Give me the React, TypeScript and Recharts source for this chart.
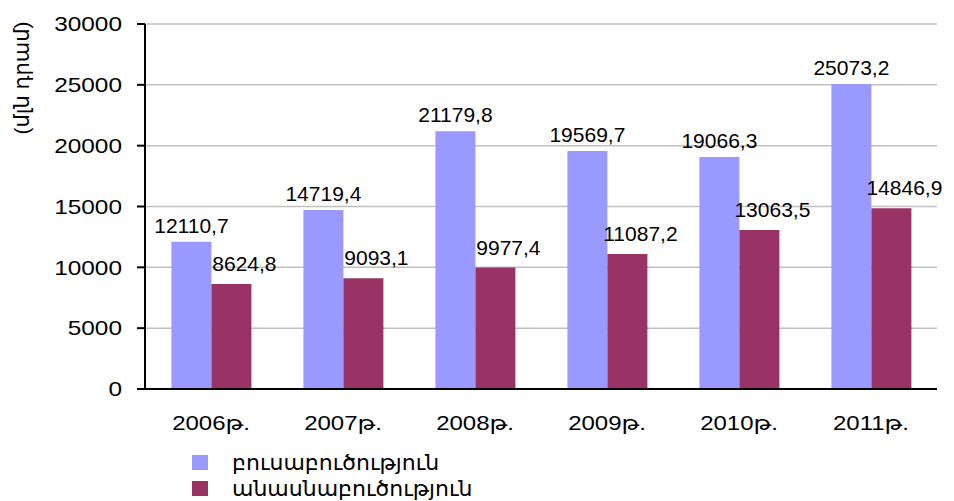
import React from "react";
import {
  BarChart,
  Bar,
  XAxis,
  YAxis,
  CartesianGrid,
  Legend,
  LabelList,
} from "recharts";

const years = ["2006թ.", "2007թ.", "2008թ.", "2009թ.", "2010թ.", "2011թ."];
const cropValues = [12110.7, 14719.4, 21179.8, 19569.7, 19066.3, 25073.2];
const livestockValues = [8624.8, 9093.1, 9977.4, 11087.2, 13063.5, 14846.9];
const yTicks = [0, 5000, 10000, 15000, 20000, 25000, 30000];
const edgeTicks = [0, 1, 2, 3, 4, 5, 6];
const seriesNames = ["բուսաբուծություն", "անասնաբուծություն"];
const unitLabel = "(մլն դրամ)";

const colors = { crop: "#9999FF", livestock: "#993366" };

const data = years.map((year, i) => ({
  year,
  crop: cropValues[i],
  livestock: livestockValues[i],
}));

const FONT = "'Liberation Sans', Arial, 'DejaVu Sans', sans-serif";

const fmt = (v: number) => v.toFixed(1).replace(".", ",");

const YTick = (props: any) => {
  const { x, y, payload } = props;
  return (
    <text
      transform={`translate(${x},${y}) scale(1.22,1)`}
      textAnchor="end"
      dy="0.36em"
      fontSize={20}
      fontFamily={FONT}
      fill="#000"
    >
      {payload.value}
    </text>
  );
};

const XTick = (props: any) => {
  const { x, y, payload } = props;
  return (
    <text
      transform={`translate(${x},${y + 25}) scale(1.2,1)`}
      textAnchor="middle"
      fontSize={20}
      fontFamily={FONT}
      fill="#000"
    >
      {payload.value}
    </text>
  );
};

const UnitLabel = () => (
  <text
    transform="translate(29,78) rotate(-90)"
    textAnchor="middle"
    fontSize={21}
    fontFamily={FONT}
    fill="#000"
  >
    {unitLabel}
  </text>
);

const CropLabel = (props: any) => {
  const { x, y, width, value } = props;
  return (
    <text
      x={x + width / 2}
      y={y - 9}
      textAnchor="middle"
      fontSize={21}
      fontFamily={FONT}
      fill="#000"
    >
      {fmt(value)}
    </text>
  );
};

const LivestockLabel = (props: any) => {
  const { x, y, width, value } = props;
  return (
    <text
      x={x + width / 2 + 13}
      y={y - 13}
      textAnchor="middle"
      fontSize={21}
      fontFamily={FONT}
      fill="#000"
    >
      {fmt(value)}
    </text>
  );
};

const LegendBox = () => (
  <div style={{ fontFamily: "'DejaVu Sans', sans-serif", fontSize: 22 }}>
    {seriesNames.map((name, i) => (
      <div
        key={name}
        style={{ display: "flex", alignItems: "center", height: 26 }}
      >
        <span
          style={{
            display: "inline-block",
            width: 16,
            height: 15,
            background: i === 0 ? colors.crop : colors.livestock,
            marginRight: 24,
          }}
        />
        <span style={{ color: "#000" }}>{name}</span>
      </div>
    ))}
  </div>
);

export default function App() {
  return (
    <div style={{ position: "absolute", left: 0, top: 0, background: "#fff" }}>
      <BarChart
        width={954}
        height={501}
        data={data}
        margin={{ top: 24, right: 17, bottom: 72, left: 45 }}
        barCategoryGap="20%"
        barGap={0}
      >
        <CartesianGrid vertical={false} stroke="#c0c0c0" strokeWidth={1.5} />
        <XAxis
          xAxisId="edges"
          type="number"
          domain={[0, 6]}
          ticks={edgeTicks}
          tick={false}
          tickSize={8}
          height={0}
          axisLine={false}
          tickLine={{ stroke: "#000", strokeWidth: 2 }}
        />
        <XAxis
          dataKey="year"
          height={40}
          tickLine={false}
          tickMargin={10}
          axisLine={{ stroke: "#000", strokeWidth: 2 }}
          tick={<XTick />}
          interval={0}
        />
        <YAxis
          width={100}
          domain={[0, 30000]}
          ticks={yTicks}
          tickSize={8}
          tickMargin={15}
          axisLine={{ stroke: "#000", strokeWidth: 2 }}
          tickLine={{ stroke: "#000", strokeWidth: 2 }}
          tick={<YTick />}
          label={<UnitLabel />}
        />
        <Legend
          layout="vertical"
          align="center"
          verticalAlign="middle"
          content={<LegendBox />}
          wrapperStyle={{ left: 192, top: 449, width: 340, height: 52 }}
        />
        <Bar dataKey="crop" fill={colors.crop} isAnimationActive={false}>
          <LabelList dataKey="crop" content={<CropLabel />} />
        </Bar>
        <Bar dataKey="livestock" fill={colors.livestock} isAnimationActive={false}>
          <LabelList dataKey="livestock" content={<LivestockLabel />} />
        </Bar>
      </BarChart>
    </div>
  );
}
